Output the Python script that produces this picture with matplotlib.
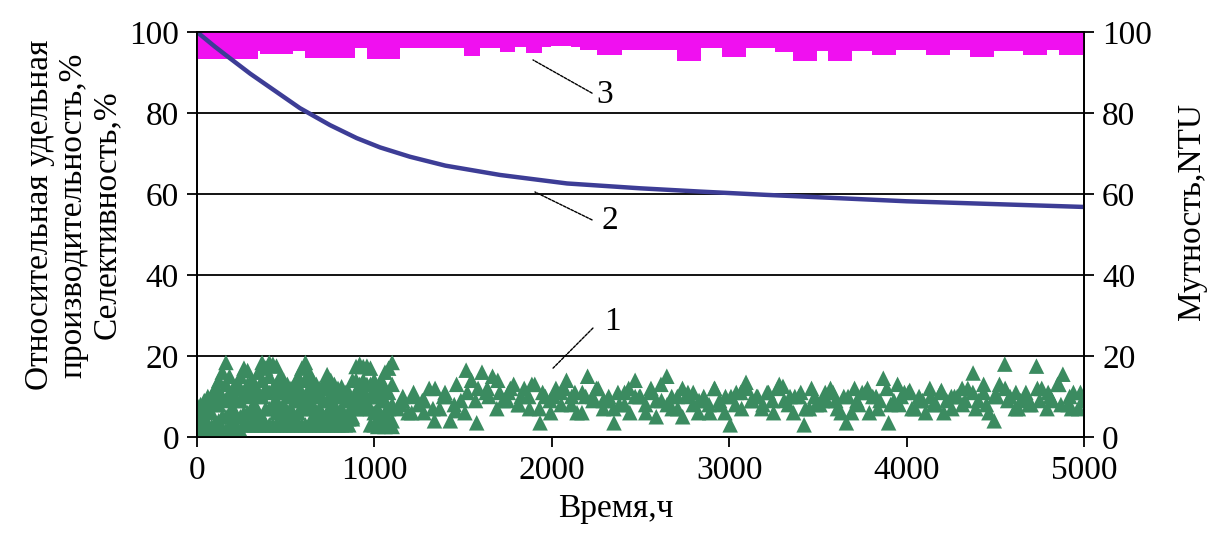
import numpy as np
import matplotlib
matplotlib.use("Agg")
import matplotlib.pyplot as plt

plt.rcParams['font.family'] = ['Liberation Serif', 'DejaVu Serif']

# ---- Data ----
# Series 2: relative specific productivity (blue line)
time_blue = [0, 100, 186, 300, 468, 580, 750, 900, 1032, 1200, 1400, 1708,
             2086, 2500, 2835, 3200, 3600, 4000, 4500, 5000]
prod_blue = [100, 96.4, 93.5, 89.7, 84.6, 81.2, 77.0, 73.8, 71.5, 69.2, 67.0,
             64.7, 62.6, 61.4, 60.6, 59.8, 59.0, 58.2, 57.5, 56.8]

# Series 3: selectivity (magenta squares), lower and upper readings
sel_low = [95.2, 95.2, 95.2, 95.2, 95.2, 95.2, 95.2, 97.3, 96.5, 96.5,
           96.5, 97.3, 97.3, 95.5, 95.5, 95.5, 95.5, 95.5, 97.9, 97.9,
           95.3, 95.3, 95.3, 98.0, 98.0, 98.0, 98.0, 98.0, 98.0, 98.0,
           98.0, 96.0, 97.9, 97.9, 97.9, 97.0, 98.2, 98.2, 96.8, 98.4,
           98.4, 98.4, 98.4, 98.4, 97.5, 97.5, 96.2, 96.2, 97.5, 97.5,
           97.5, 97.5, 97.5, 97.5, 97.5, 94.6, 94.6, 97.9, 97.9, 97.9,
           95.8, 95.8, 97.9, 97.9, 97.9, 97.9, 97.0, 97.0, 94.6, 94.6,
           97.1, 97.1, 94.6, 94.6, 97.1, 97.1, 97.1, 96.2, 96.2, 97.5,
           97.5, 97.5, 97.5, 96.2, 96.2, 97.5, 97.5, 97.5, 95.8, 95.8,
           97.1, 97.1, 97.1, 97.1, 96.2, 96.2, 97.5, 97.5, 96.2, 96.2,
           96.2]
sel_high = [98.3, 98.3, 98.3, 98.2, 98.3, 98.3, 98.3, 98.2, 98.3, 98.3,
            98.3, 98.2, 98.3, 98.3, 98.3, 98.2, 98.3, 98.3, 98.3, 98.2,
            98.3, 98.3, 98.3, 98.2, 98.3, 98.3, 98.3, 98.2, 98.3, 98.3,
            98.3, 98.2, 98.3, 98.3, 98.3, 98.2, 98.3, 98.3, 98.3, 98.2,
            98.3, 98.3, 98.3, 98.2, 98.3, 98.3, 98.3, 98.2, 98.3, 98.3,
            98.3, 98.2, 98.3, 98.3, 98.3, 98.2, 98.3, 98.3, 98.3, 98.2,
            98.3, 98.3, 98.3, 98.2, 98.3, 98.3, 98.3, 98.2, 98.3, 98.3,
            98.3, 98.2, 98.3, 98.3, 98.3, 98.2, 98.3, 98.3, 98.3, 98.2,
            98.3, 98.3, 98.3, 98.2, 98.3, 98.3, 98.3, 98.2, 98.3, 98.3,
            98.3, 98.2, 98.3, 98.3, 98.3, 98.2, 98.3, 98.3, 98.3, 98.2,
            98.3]

# Series 1: turbidity NTU (green triangles)
# early dense period 0..1100 h, several readings per time
turb_a_top = [8, 9, 10, 14, 18.4, 12, 15, 16.4, 13, 18.4, 18.4, 17.5, 14, 12,
              15, 18.4, 14, 12, 15.4, 13, 12.4, 11, 17.4, 17.4, 17, 12, 16, 18.4]
turb_a_up = [6, 8, 9, 11, 13, 10, 12, 13, 11, 14, 15, 13, 11, 10,
             12, 14, 11, 10, 12, 11, 10, 9, 14, 14, 13, 10, 12, 13]
turb_a_mid = [4, 5, 6, 8, 9, 7, 9, 10, 8, 10, 11, 9, 8, 7,
              9, 10, 8, 7, 9, 8, 7, 6, 11, 11, 10, 7, 9, 8]
turb_a_low = [2.5, 3, 2.5, 4, 5, 3, 5, 6, 5, 5, 7, 6, 5, 4,
              6, 7, 5, 4, 6, 5, 4, 4.5, 9, 9, 7, 4, 6, 4]
turb_a_bot = [1.6, 1.6, 1.6, 1.6, 1.6, 1.6, 1.6, 3.0, 3.0, 3.0, 3.0, 3.0, 3.0, 3.0,
              3.0, 3.0, 3.0, 3.0, 3.0, 3.0, 3.0, 3.0, 7, 7, 3.0, 2.6, 2.6, 2.6]
# intermediate readings of the early period
turb_a2_top = [8, 10, 12, 16, 15, 13, 17, 14, 16, 17, 18, 15, 13, 13, 17, 16,
               13, 13, 14, 12, 11, 14, 18, 17.5, 14, 14, 17]
turb_a2_mid = [5, 7, 8, 10, 11, 9, 11, 11, 10, 12, 12, 11, 10, 9, 11, 12,
               10, 9, 10, 10, 9, 8, 13, 13, 11, 9, 11]
turb_a2_low = [1.6, 3, 3.5, 5, 6, 5, 6, 7, 6, 7, 8, 7, 6, 5, 7, 8,
               6, 5, 7, 6, 5, 5, 10, 10, 6, 5, 7]
turb_a2_bot = [1.6, 1.6, 1.6, 1.6, 2.6, 2.6, 3, 3.0, 3.0, 3.0, 3.0, 3.0, 3.0,
               3.0, 3.0, 3.0, 3.0, 3.0, 3.0, 3.0, 3.0, 4.5, 8, 8, 3.0, 3, 4]
# later period 1130..5000 h
turb_b = [7, 9, 6, 10, 8, 6, 12, 4, 7, 11, 4, 6.5, 9, 16.5, 14, 3.5, 16, 12,
          15, 14, 9, 11, 13, 8, 12, 7, 13, 3.5, 10, 6, 12, 8, 14, 10, 6, 11,
          15, 9, 12, 7, 10, 3.5, 8, 11, 6, 14, 10, 8, 12, 5, 9, 15, 7, 10, 5,
          11, 8, 6, 10, 8, 12, 9, 6, 3, 8, 11, 13.5, 9, 10, 7, 11, 9, 12, 12.5,
          8, 6, 10, 3, 7, 10, 8, 11, 12, 9, 6, 3.5, 6, 9, 11, 12, 10, 7, 14.5,
          3.5, 9, 8, 11, 11.5, 7, 9, 6, 10, 8, 11.5, 9, 7, 10, 8, 12, 15.8, 9,
          11, 6, 4, 13, 18, 10, 7, 9, 11, 8, 17.5, 12, 7, 9, 13, 15.5, 8, 11,
          7, 9]
turb_b2 = [8, 6, 9, 7, 10, 8, 6, 9, 11, 7, 9, 8, 10, 7, 9, 11, 8, 6, 10, 9,
           7, 8, 10, 6, 9, 8, 7, 10, 9, 6, 8, 10, 7, 9, 8, 6, 9, 10, 7, 8, 9,
           7, 10, 8, 6, 9, 8, 10, 7, 9, 8, 6, 10, 9, 7, 8, 10, 9, 7, 8, 9, 10,
           8, 7, 9]
turb_b3 = [10, 11, 9, 12, 10, 13, 11, 12, 10, 11, 12, 10, 13, 11, 10, 12,
           11, 10, 12, 9, 11, 12, 10, 11, 13, 10, 12, 11, 9, 12, 10, 11,
           12, 10, 11, 13, 10, 11, 12, 9, 11, 10, 12, 11, 10, 12, 13, 11,
           10, 12, 11, 10, 12, 11, 13, 10, 12, 11, 10, 12, 11, 13, 10, 11]

x_ticks = [0, 1000, 2000, 3000, 4000, 5000]
y_ticks = [0, 20, 40, 60, 80, 100]

# ---- sampling times ----
t_sel_low = np.linspace(0, 5000, len(sel_low))
t_sel_high = np.linspace(0, 5000, len(sel_high))
t_a = np.linspace(0, 1100, len(turb_a_top))
t_a2 = np.linspace(20, 1080, len(turb_a2_top))
t_b = np.linspace(1130, 5000, len(turb_b))
t_b2 = np.linspace(1150, 4990, len(turb_b2))
t_b3 = np.linspace(1160, 4980, len(turb_b3))

green = '#3b8b60'
magenta = '#f010f0'
blue = '#3d3d96'

fig = plt.figure(figsize=(12.14, 5.35), dpi=100)
ax = fig.add_axes([0.1623, 0.1832, 0.7306, 0.7570])
ax2 = ax.twinx()

ax.set_xlim(0, 5000)
ax.set_ylim(0, 100)
ax2.set_ylim(0, 100)

for yv in y_ticks[1:]:
    ax.axhline(yv, color='black', lw=1.3, zorder=0)

ax.scatter(t_sel_low, sel_low, marker='s', s=120, color=magenta,
           edgecolors='none', zorder=3)
ax.scatter(t_sel_high, sel_high, marker='s', s=120, color=magenta,
           edgecolors='none', zorder=3)
ax.plot(time_blue, prod_blue, color=blue, lw=3.2, zorder=4,
        solid_capstyle='butt')

msz = 125
for ys in (turb_a_bot, turb_a_low, turb_a_mid, turb_a_up, turb_a_top):
    ax2.scatter(t_a, ys, marker='^', s=msz, color=green, edgecolors='none')
for ys in (turb_a2_bot, turb_a2_low, turb_a2_mid, turb_a2_top):
    ax2.scatter(t_a2, ys, marker='^', s=msz, color=green, edgecolors='none')
ax2.scatter(t_b3, turb_b3, marker='^', s=msz, color=green, edgecolors='none')
ax2.scatter(t_b2, turb_b2, marker='^', s=msz, color=green, edgecolors='none')
ax2.scatter(t_b, turb_b, marker='^', s=msz, color=green, edgecolors='none')

# annotations
lead = dict(arrowstyle='-', lw=1.0, ls=(0, (2, 1)), color='black',
            shrinkA=0, shrinkB=0)
ax.annotate('', xy=(1894, 93.1), xytext=(2227, 84.9), arrowprops=lead)
ax.annotate('', xy=(1905, 60.5), xytext=(2227, 53.6), arrowprops=lead)
ax.annotate('', xy=(2007, 17.0), xytext=(2232, 26.9), arrowprops=lead)
ax.text(2300, 84.4, '3', fontsize=24, ha='center', va='center')
ax.text(2330, 53.3, '2', fontsize=24, ha='center', va='center')
ax.text(2340, 28.4, '1', fontsize=24, ha='center', va='center')

# ticks & spines
ax.set_xticks(x_ticks)
ax.set_yticks(y_ticks)
ax2.set_yticks(y_ticks)
ax.tick_params(axis='both', direction='out', length=7, width=1.3,
               labelsize=24, pad=6)
ax2.tick_params(axis='y', direction='out', length=7, width=1.3,
                labelsize=24, pad=6)
for a in (ax, ax2):
    for sp in a.spines.values():
        sp.set_linewidth(1.3)
        sp.set_color('black')

fig.text(0.060, 0.598,
         'Относительная удельная\nпроизводительность,%\nСелективность,%',
         rotation=90, ha='center', va='center', fontsize=24,
         multialignment='center', linespacing=1.12)
fig.text(0.982, 0.605, 'Мутность,NTU', rotation=90, ha='center',
         va='center', fontsize=24)
fig.text(0.507, 0.050, 'Время,ч', ha='center', va='center', fontsize=24)

fig.savefig('out.png', dpi=100)
